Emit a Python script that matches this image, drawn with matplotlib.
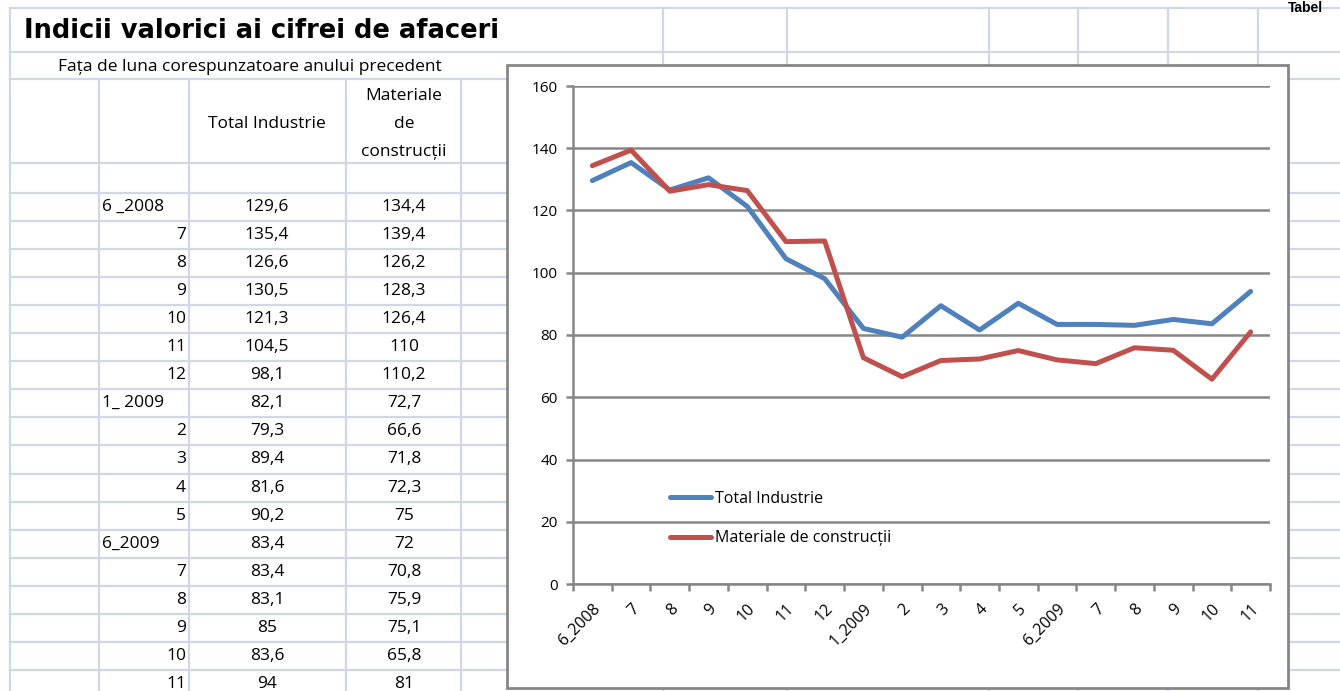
import matplotlib.pyplot as plt
from matplotlib.patches import Rectangle

# Data (read from the sheet)
luni = ['6 _2008', '7', '8', '9', '10', '11', '12', '1_ 2009', '2', '3', '4', '5',
        '6_2009', '7', '8', '9', '10', '11']
total_industrie = [129.6, 135.4, 126.6, 130.5, 121.3, 104.5, 98.1, 82.1, 79.3, 89.4,
                   81.6, 90.2, 83.4, 83.4, 83.1, 85, 83.6, 94]
materiale = [134.4, 139.4, 126.2, 128.3, 126.4, 110, 110.2, 72.7, 66.6, 71.8,
             72.3, 75, 72, 70.8, 75.9, 75.1, 65.8, 81]
y_ticks = [0, 20, 40, 60, 80, 100, 120, 140, 160]

W, H = 1340, 691
grid_col = '#D0D7E5'
body_font = 'Open Sans'
fs = 12.5

fig = plt.figure(figsize=(W / 100, H / 100), dpi=100)

# Sheet background in pixel coordinates
sheet = fig.add_axes([0, 0, 1, 1])
sheet.set_xlim(0, W)
sheet.set_ylim(H, 0)
sheet.axis('off')

# sheet gridlines
for y in [8, 52, 79, 163]:
    sheet.plot([10, W], [y, y], color=grid_col, lw=1.6)
row_h = 28.1
for k in range(19):
    y = 192.5 + k * row_h
    sheet.plot([10, W], [y, y], color=grid_col, lw=1.6)
sheet.plot([10, 10], [8, H], color=grid_col, lw=1.6)
for x in [99, 189, 346, 461]:
    sheet.plot([x, x], [79, H], color=grid_col, lw=1.6)
for x in [663, 787, 989, 1078, 1168, 1258]:
    sheet.plot([x, x], [8, H], color=grid_col, lw=1.6)

# title and header texts
sheet.text(24, 31, 'Indicii valorici ai cifrei de afaceri', fontsize=18.5,
           fontweight='bold', family='DejaVu Sans', va='center', ha='left')
sheet.text(1288, 1, 'Tabel', fontsize=10, fontweight='bold',
           family='Liberation Sans', va='top', ha='left')
sheet.text(250, 67, 'Fața de luna corespunzatoare anului precedent', fontsize=fs,
           family=body_font, va='center', ha='center')
sheet.text(267, 124, 'Total Industrie', fontsize=fs, family=body_font,
           va='center', ha='center')
for i, s in enumerate(['Materiale', 'de', 'construcții']):
    sheet.text(404, 96 + i * 28, s, fontsize=fs, family=body_font,
               va='center', ha='center')

# table rows
for k, lab in enumerate(luni):
    yc = 192.5 + (k + 0.5) * row_h
    if '_' in lab:
        sheet.text(102, yc, lab, fontsize=fs, family=body_font, va='center', ha='left')
    else:
        sheet.text(186, yc, lab, fontsize=fs, family=body_font, va='center', ha='right')
    sheet.text(267, yc, f'{total_industrie[k]:g}'.replace('.', ','), fontsize=fs,
               family=body_font, va='center', ha='center')
    sheet.text(404, yc, f'{materiale[k]:g}'.replace('.', ','), fontsize=fs,
               family=body_font, va='center', ha='center')

# chart frame
sheet.add_patch(Rectangle((507, 65), 1288 - 507, 688 - 65, facecolor='white',
                          edgecolor='#868686', lw=2, zorder=5))

# Chart plot area
left, right, top, bottom = 573, 1270, 86, 584
ax = fig.add_axes([left / W, 1 - bottom / H, (right - left) / W, (bottom - top) / H])
ax.set_facecolor('none')
x = list(range(len(luni)))
ax.plot(x, total_industrie, color='#4F81BD', lw=3.6, label='Total Industrie',
        solid_capstyle='round', solid_joinstyle='round', zorder=3)
ax.plot(x, materiale, color='#C0504D', lw=3.6, label='Materiale de construcții',
        solid_capstyle='round', solid_joinstyle='round', zorder=3)

ax.set_xlim(-0.5, len(luni) - 0.5)
ax.set_ylim(0, 160)
ax.set_yticks(y_ticks)
ax.set_yticklabels([str(v) for v in y_ticks], fontsize=11, family=body_font)
ax.yaxis.grid(True, color='#868686', lw=1.8)
ax.set_axisbelow(True)
for s in ['top', 'right']:
    ax.spines[s].set_visible(False)
for s in ['left', 'bottom']:
    ax.spines[s].set_color('#868686')
    ax.spines[s].set_linewidth(1.8)

# x ticks on category boundaries, labels in the middle
ax.set_xticks([i - 0.5 for i in range(len(luni) + 1)])
ax.set_xticklabels([])
ax.set_xticks(x, minor=True)
ax.set_xticklabels([lab.replace(' ', '') for lab in luni], minor=True, rotation=45,
                   ha='right', rotation_mode='anchor', fontsize=11.5, family=body_font)
ax.tick_params(axis='x', which='major', length=5, width=1.8, color='#868686', direction='out')
ax.tick_params(axis='x', which='minor', length=0, pad=12)
ax.tick_params(axis='y', length=5, width=1.8, color='#868686', pad=6)

ax.legend(loc='lower left', bbox_to_anchor=(0.127, 0.06), frameon=False,
          prop={'family': body_font, 'size': 11.5}, handlelength=2.6, handletextpad=0.25,
          labelspacing=1.45, borderpad=0)

fig.savefig('out.png', dpi=100)
